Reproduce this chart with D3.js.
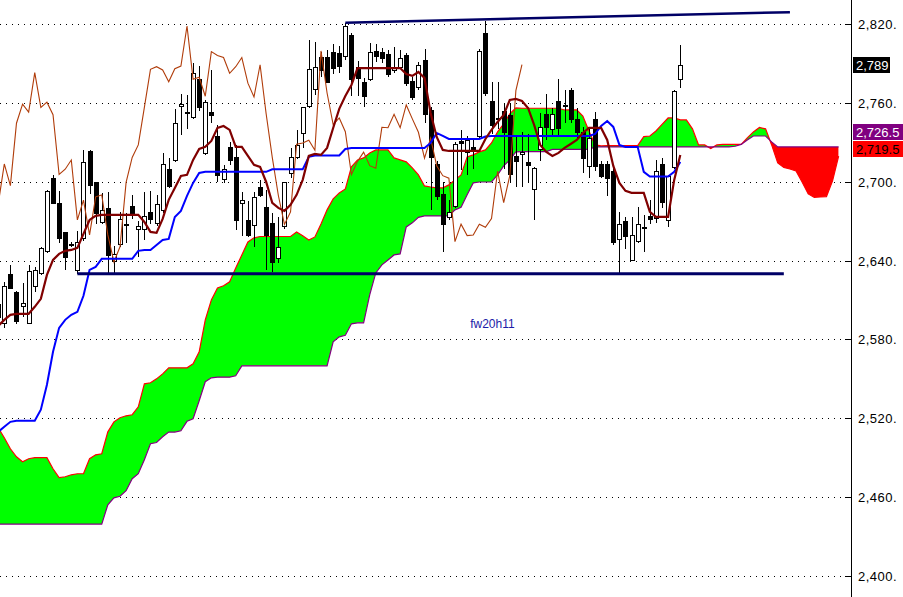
<!DOCTYPE html>
<html><head><meta charset="utf-8">
<script src="https://cdn.jsdelivr.net/npm/d3@7/dist/d3.min.js"></script>
<style>body{margin:0;background:#fff}svg{display:block}</style>
</head><body><svg id="c" width="903" height="597"></svg>
<script>
// ---- data (index of first element = -1) ----
const firstIndex = -1;
const displacement = 26;
const opens = [2597,
2593,2630,2616,2605.5,2592.5,2621,2630.5,2647.5,2703,2684,
2662,2652,2633.5,2657,2723,2699.5,2669.5,2680,2640,2652.5,
2667,2681.5,2664,2664,2677,2668.5,2678.5,2710,2716.5,2757.5,
2752.5,2749.5,2778,2721.5,2753,2735,2702,2726.5,2719,2684,
2671,2667,2696,2681,2668.5,2642,2666,2706.5,2719,2737,
2757.5,2771,2795,2795,2798.5,2798,2796,2811.5,2787.5,2776,
2778.5,2799.5,2799,2797.5,2785.5,2787.5,2796.5,2776.5,2772,2792.5,
2754.5,2713.5,2690.5,2673.5,2681.5,2731,2722.5,2726.5,2734.5,2813.5,
2761.5,2748,2754,2750.5,2719.5,2721,2714.8,2694.3,2724.7,2751.3,
2740,2761.4,2758,2769.8,2747.8,2737.6,2711.5,2747.8,2713.5,2713.5,
2708.2,2656.3,2670.2,2640.5,2654.4,2665,2674,2672.2,2713.3,2671,
2711.5,2778];
const highs = [2612,
2624,2637,2617,2623,2637,2635,2650,2694,2705,2693,
2662,2654,2662.5,2724,2724,2700,2691.5,2692.5,2651,2677,
2676,2690,2670,2692,2693,2690,2721.5,2718,2755,2767,
2766,2790,2788,2762,2785,2743,2713,2730.5,2728,2692,
2685,2692.5,2701.5,2693.5,2676,2673.5,2700,2725.5,2739.5,2757,
2808,2806.5,2799,2800,2805,2803,2821,2813,2791.5,2779,
2805.5,2805,2802,2800,2802.5,2800,2798,2780,2791,2801,
2757,2716,2700,2686,2730,2739.5,2735,2732.5,2801,2822.5,
2776,2776,2760,2760,2735.5,2738,2736,2711,2752,2766.5,
2756,2778,2770,2771,2756,2742,2742,2753.3,2716,2716,
2712,2677.3,2673.5,2673.5,2681,2674.7,2686.2,2716.6,2718.3,2705,
2770,2804];
const lows = [2588,
2589,2618,2592,2597,2592,2616,2629,2646,2683,2653.5,
2632.5,2650,2630,2655,2691,2668,2668,2630.5,2630,2650,
2653,2672,2643,2655.5,2668,2666,2676,2695,2715,2735.5,
2740,2748,2754,2720,2745,2700,2699,2713,2663,2658.5,
2658,2650.5,2688,2633,2631,2638,2664,2703,2717,2725.5,
2756,2766,2780,2775,2782,2783,2792.5,2765,2765,2756.5,
2777,2791,2790,2780,2783,2786,2773,2762,2770,2745,
2678.5,2686,2646.5,2671,2680,2709,2705,2710,2733,2765,
2736,2740,2710,2700,2696,2696,2700,2670.5,2716,2732,
2734,2735,2745,2745,2733,2707,2703,2708,2703,2689.4,
2652,2630.4,2648.7,2640,2653,2646.8,2667.9,2668.4,2680,2665.4,
2710,2771];
const closes = [2607,
2621,2619.5,2594,2607.5,2632,2633,2649.5,2693,2684,2657.5,
2643,2652.5,2654.5,2715,2697,2676,2678.5,2644,2645,2671.5,
2668,2675.5,2666.5,2674,2671.5,2683,2713.5,2697,2744.5,2759,
2753,2783,2756.5,2760.5,2751,2705.5,2709.5,2716.5,2671,2686,
2659.5,2688.5,2690,2659.5,2639,2650.5,2699.5,2718.5,2728,2756.5,
2785.5,2787.5,2785,2776,2786,2788,2818.5,2778,2779.5,2765,
2799,2796,2794.5,2782.5,2787.5,2794.5,2775,2764.5,2789,2751.5,
2718.5,2689.5,2667.5,2677,2728.5,2729.5,2731.5,2724,2799.5,2767.5,
2743.5,2748.5,2738,2705.5,2715.5,2722.5,2712.2,2710.3,2741.4,2741.1,
2751.3,2741.1,2758.4,2747.8,2737.6,2717.9,2733.1,2712.2,2704.6,2702.7,
2654.4,2667.7,2659,2659.5,2667.7,2665.3,2672,2708,2684.1,2704.6,
2769.3,2789];
const tenkan = [2590.3,
2594.9,2598.7,2599.5,2599.5,2599.5,2604.8,2610.9,2629.1,2640.5,2645.1,
2647.4,2648.1,2649.7,2660.3,2670.9,2674,2674.8,2674.8,2674.8,2674.8,
2674.8,2674.8,2674.8,2669.4,2661.8,2661.1,2671.7,2686.2,2695.3,2704.4,
2705.2,2716.6,2724.9,2726.5,2731,2740.9,2742.4,2739.4,2726.5,2726.5,
2719.6,2712.8,2711.3,2699.8,2683.9,2680.1,2677.8,2682.4,2690,2701.4,
2719.6,2721.1,2720.4,2725.7,2740.9,2755.4,2765.2,2773.6,2786.5,2786.5,
2786.5,2786.5,2786.5,2786.5,2786.5,2786.5,2782,2780.5,2783.5,2778.9,
2752.3,2734.1,2724.2,2723.4,2723.4,2723.4,2723.4,2723.4,2723.4,2732.5,
2739.4,2745.5,2750.8,2762.2,2763,2761.4,2756.1,2743.2,2728,2722.7,
2719.6,2721.9,2725.7,2728.7,2731.8,2737.1,2740.9,2740.9,2740.9,2731.8,
2712,2699.1,2693,2691.5,2691.5,2691.5,2677,2673.2,2673.2,2673.2,
2701.4,2720.4];
const kijun = [2509.7,
2513.5,2517.3,2518.1,2518.1,2518.1,2518.1,2526.5,2545.5,2570.6,2588.8,
2594.9,2598.7,2601,2613.2,2632.9,2635.2,2641.3,2641.3,2641.3,2641.3,
2641.3,2641.3,2647.4,2648.1,2648.1,2651.9,2655.7,2656.5,2673.2,2677.8,
2689.2,2699.1,2706.7,2707.5,2707.5,2707.5,2707.5,2707.5,2707.5,2707.5,
2707.5,2707.5,2707.5,2707.5,2709.4,2709.4,2709.4,2709.4,2709.4,2709.4,
2718.9,2720,2720,2720,2720,2720,2724.9,2725.7,2725.7,2725.7,
2725.7,2725.7,2725.7,2725.7,2725.7,2725.7,2725.7,2725.7,2725.7,2725.7,
2729.5,2737.1,2734.8,2732.5,2732.5,2732.5,2732.5,2732.5,2732.5,2734.4,
2734.8,2734.8,2734.8,2734.8,2734.8,2734.8,2734.8,2734.8,2734.8,2734.8,
2734.8,2734.8,2734.8,2734.8,2734.8,2734.8,2734.8,2736.3,2742.4,2746.2,
2741.7,2728,2726.5,2726.5,2726.5,2707.5,2703.9,2703.9,2703.9,2703.9,
2707.5,2715.1];
const spanA = [2512.8,
2505.2,2496.8,2490.7,2486.9,2489.2,2490,2490,2490,2481.6,2474.8,
2475.5,2477,2477.8,2477.8,2489.2,2492.2,2493,2509.7,2517.3,2520.4,
2521.9,2522.7,2528.7,2546.2,2547,2550,2553.8,2558.4,2558.4,2558.4,
2558.4,2561.4,2570.6,2594.9,2610.1,2619.2,2620.8,2623.8,2634.4,2644.3,
2654.2,2657.3,2658.3,2658.3,2658.3,2658.3,2658.3,2658.3,2661.8,2658.8,
2655.7,2658,2667.9,2678.6,2686.9,2691.5,2694.5,2711.3,2716.6,2718.1,
2721.9,2724.2,2724.2,2724.2,2718.1,2716.6,2715.1,2710.5,2705.2,2696.8,
2696,2695.3,2695.3,2697.6,2701.4,2705.2,2718.9,2720.4,2722.7,2724.2,
2729.5,2737.9,2744,2751.6,2756.1,2755.9,2755.9,2755.9,2755.9,2755.9,
2755.9,2755.9,2754.6,2754.6,2754.6,2750,2738.6,2728,2727.2,2727.5,
2727.5,2727.5,2727.5,2727.5,2727.5,2734.3,2734.8,2738.6,2743.6,2748.5,
2748.5,2747,2747,2740.2,2728,2728,2725.3,2728,2728.4,2728.4,
2728.4,2728.4,2733.3,2737.9,2741.3,2740.2,2728,2714.3,2710.9,2709.7,
2708.2,2699.8,2690.7,2688.1,2688.4,2688.7,2700.6,2719.5];
const spanB = [2439.5,
2439.5,2439.5,2439.5,2439.5,2439.5,2439.5,2439.5,2439.5,2439.5,2439.5,
2439.5,2439.5,2439.5,2439.5,2439.5,2439.5,2439.5,2454.2,2459.5,2460.7,
2464.9,2474,2477.8,2488.4,2500.6,2501.6,2505.9,2509.5,2509.5,2510.5,
2517.7,2519.6,2533.3,2547.8,2550.8,2551.3,2551.3,2551.3,2552.3,2559.9,
2559.9,2559.9,2559.9,2559.9,2559.9,2559.9,2559.9,2559.9,2559.9,2559.9,
2559.9,2559.9,2559.9,2559.9,2578.2,2582,2583.1,2591.9,2592.6,2592.6,
2613.9,2630.6,2636.7,2640.5,2644.3,2645.1,2665.6,2668.7,2672.9,2674,
2674,2674,2674,2674,2678.6,2680.5,2690,2699.1,2699.8,2699.8,
2699.8,2705.2,2712,2716.6,2722.7,2722.9,2722.9,2722.9,2722.9,2722.9,
2724.6,2724.6,2724.6,2724.6,2724.6,2724.6,2724.6,2726.5,2726.5,2726.5,
2726.5,2726.5,2726.5,2726.5,2726.5,2726.5,2726.5,2726.5,2726.5,2726.5,
2726.5,2726.5,2726.5,2726.5,2726.5,2726.5,2726.5,2726.5,2726.5,2726.5,
2727,2728.4,2731.8,2734.8,2734.8,2734.8,2730.3,2726.5,2726.5,2726.5,
2726.5,2726.5,2726.5,2726.5,2726.5,2726.5,2726.5,2726.5];
const yTicks = [2400,2460,2520,2580,2640,2700,2760,2820];
const trendUpper = [{i:56, v:2821}, {i:129, v:2829}];
const trendLower = [{i:12, v:2630}, {i:128, v:2630}];
const lastClose = 2789, lastSpanB = 2726.5, lastSpanA = 2719.5;
const noteText = "fw20h11";

// ---- drawing ----
const W = 903, H = 597, plotRight = 849, axisX = 851.5;
const svg = d3.select("#c");
const x = d3.scaleLinear().domain([0, 111]).range([4.3, 680.3]);
const y = d3.scaleLinear().domain([2400, 2820]).range([576, 24]);
const fmt = d3.format(",");

const defs = svg.append("defs");
defs.append("clipPath").attr("id","plot").append("rect")
  .attr("x",0).attr("y",0).attr("width",plotRight).attr("height",H);
const spanPts = spanA.map((a,k)=>({i:k+firstIndex, a:a, b:spanB[k]}));
defs.append("clipPath").attr("id","aboveB").append("path")
  .attr("d", d3.area().x(d=>x(d.i)).y0(0).y1(d=>y(d.b))(spanPts));
defs.append("clipPath").attr("id","belowB").append("path")
  .attr("d", d3.area().x(d=>x(d.i)).y0(H).y1(d=>y(d.b))(spanPts));

const g = svg.append("g").attr("clip-path","url(#plot)");

// grid
g.selectAll("line.grid").data(yTicks).join("line").attr("class","grid")
  .attr("x1",0).attr("x2",plotRight)
  .attr("y1",d=>Math.round(y(d))+0.5).attr("y2",d=>Math.round(y(d))+0.5)
  .attr("stroke","#000").attr("stroke-width",1).attr("stroke-dasharray","1,5")
  .attr("shape-rendering","crispEdges");

// cloud
const areaAB = d3.area().x(d=>x(d.i)).y0(d=>y(d.a)).y1(d=>y(d.b));
g.append("path").datum(spanPts).attr("clip-path","url(#aboveB)")
  .attr("fill","#00ff00").attr("d",areaAB);
g.append("path").datum(spanPts).attr("clip-path","url(#belowB)")
  .attr("fill","#ff0000").attr("d",areaAB);
g.append("path").datum(spanPts).attr("fill","none").attr("stroke","#ff0000").attr("stroke-width",1.2)
  .attr("d", d3.line().x(d=>x(d.i)).y(d=>y(d.a)));
g.append("path").datum(spanPts).attr("fill","none").attr("stroke","#800080").attr("stroke-width",1.2)
  .attr("d", d3.line().x(d=>x(d.i)).y(d=>y(d.b)));

// candles
const candles = opens.map((o,k)=>({i:k+firstIndex, o:o, h:highs[k], l:lows[k], c:closes[k]}));
const cg = g.append("g");
cg.selectAll("line.wick").data(candles).join("line").attr("class","wick")
  .attr("x1",d=>Math.round(x(d.i))+0.5).attr("x2",d=>Math.round(x(d.i))+0.5)
  .attr("y1",d=>y(d.h)).attr("y2",d=>y(d.l))
  .attr("stroke","#000").attr("stroke-width",1).attr("shape-rendering","crispEdges");
cg.selectAll("rect.body").data(candles).join("rect").attr("class","body")
  .attr("x",d=>Math.round(x(d.i))-1.5).attr("width",4)
  .attr("y",d=>Math.round(y(Math.max(d.o,d.c)))+0.5)
  .attr("height",d=>Math.max(1, Math.round(Math.abs(y(d.o)-y(d.c)))))
  .attr("fill",d=>d.c>=d.o?"#fff":"#000").attr("stroke","#000").attr("stroke-width",1)
  .attr("shape-rendering","crispEdges");

// chikou (close plotted displacement bars back)
const chikou = closes.map((c,k)=>({i:k+firstIndex-displacement, v:c})).filter(d=>d.i>=firstIndex);
g.append("path").datum(chikou).attr("fill","none").attr("stroke","#b03c0a").attr("stroke-width",1.1)
  .attr("d", d3.line().x(d=>x(d.i)).y(d=>y(d.v)));

// kijun & tenkan
const kij = kijun.map((v,k)=>({i:k+firstIndex, v:v}));
const ten = tenkan.map((v,k)=>({i:k+firstIndex, v:v}));
g.append("path").datum(kij).attr("fill","none").attr("stroke","#0000ff").attr("stroke-width",2)
  .attr("d", d3.line().x(d=>x(d.i)).y(d=>y(d.v)));
g.append("path").datum(ten).attr("fill","none").attr("stroke","#800000").attr("stroke-width",2.2)
  .attr("d", d3.line().x(d=>x(d.i)).y(d=>y(d.v)));

// trend lines
const tl = d3.line().x(d=>x(d.i)).y(d=>y(d.v));
g.append("path").datum(trendLower).attr("fill","none").attr("stroke","#000066").attr("stroke-width",3).attr("d",tl);
g.append("path").datum(trendUpper).attr("fill","none").attr("stroke","#000066").attr("stroke-width",2.5).attr("d",tl);

// note
g.append("text").attr("x",x(76.5)).attr("y",y(2589)).attr("fill","#1c1ca8")
  .attr("font-family","Liberation Sans, Arial, sans-serif").attr("font-size",12).text(noteText);

// axis
svg.append("line").attr("x1",axisX).attr("x2",axisX).attr("y1",0).attr("y2",H)
  .attr("stroke","#000").attr("stroke-width",1).attr("shape-rendering","crispEdges");
svg.selectAll("line.tick").data(yTicks).join("line").attr("class","tick")
  .attr("x1",845).attr("x2",axisX).attr("y1",d=>Math.round(y(d))+0.5).attr("y2",d=>Math.round(y(d))+0.5)
  .attr("stroke","#000").attr("shape-rendering","crispEdges");
svg.selectAll("text.tl").data(yTicks).join("text").attr("class","tl")
  .attr("x",858).attr("y",d=>y(d)+5)
  .attr("font-family","Liberation Sans, Arial, sans-serif").attr("font-size",13)
  .attr("letter-spacing",0.5).attr("fill","#000")
  .text(d=>fmt(d)+".");

// price tags
function tag(top, w, bg, fg, label){
  svg.append("rect").attr("x",853).attr("y",top).attr("width",w).attr("height",16).attr("fill",bg);
  svg.append("text").attr("x",856).attr("y",top+12.5).attr("fill",fg)
    .attr("font-family","Liberation Sans, Arial, sans-serif").attr("font-size",13).text(label);
}
const redTop = Math.round(y(lastSpanA)) - 15;
tag(Math.round(y(lastClose)) - 8, 37, "#000", "#fff", fmt(lastClose));
tag(redTop - 17, 50, "#800080", "#fff", d3.format(",.1f")(lastSpanB));
tag(redTop, 50, "#ff0000", "#000", d3.format(",.1f")(lastSpanA));
</script></body></html>
